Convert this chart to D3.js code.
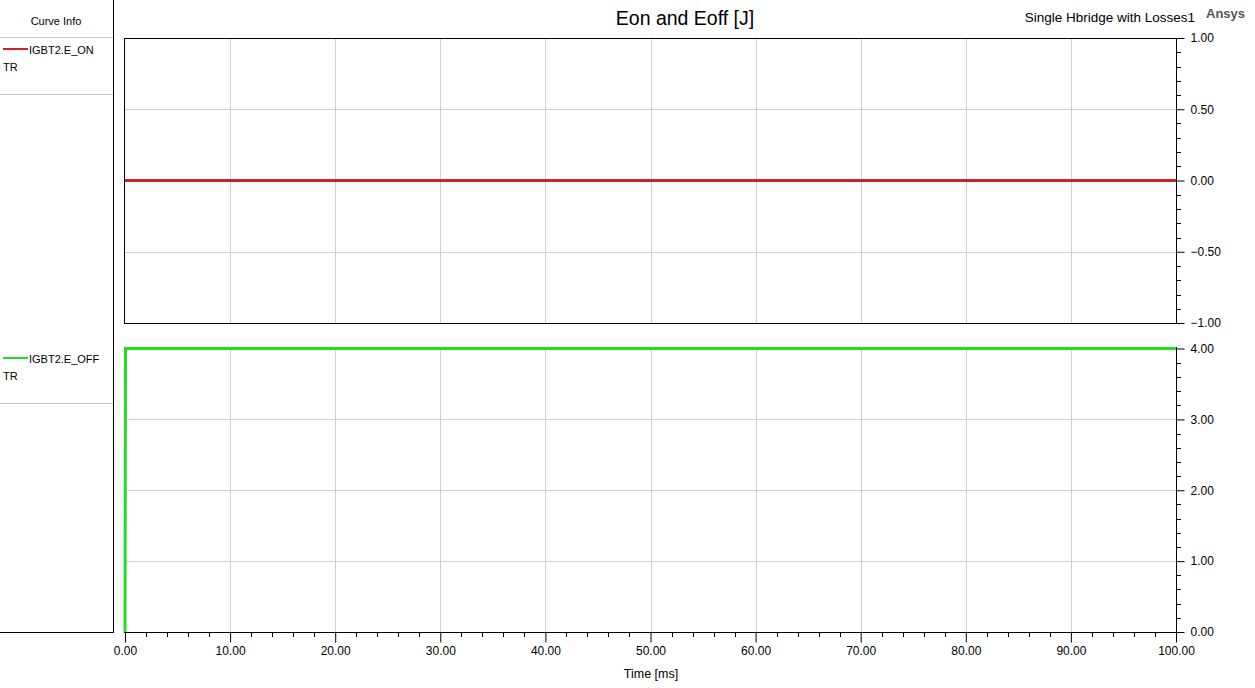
<!DOCTYPE html>
<html><head><meta charset="utf-8">
<script src="https://cdn.jsdelivr.net/npm/d3@7"></script>
<style>body{margin:0;background:#fff;font-family:Arial,"Liberation Sans",sans-serif}</style>
</head><body><svg id="c" width="1255" height="688"></svg>
<script>
const title = "Eon and Eoff [J]";
const subtitle = "Single Hbridge with Losses1";
const brand = "Ansys";
const xLabel = "Time [ms]";
const xTicks = [0,10,20,30,40,50,60,70,80,90,100];
const onTime = [0, 100];
const onValues = [0, 0];
const offTime = [0, 0.05, 100];
const offValues = [0, 4, 4];
const onTicks = [1, 0.5, 0, -0.5, -1];
const offTicks = [4, 3, 2, 1, 0];
const legendNames = ["IGBT2.E_ON", "IGBT2.E_OFF"];
const legendSub = ["TR", "TR"];
const colors = ["#cc2229", "#22dd22"];

const svg = d3.select("#c");
const L = 124, R = 1176;
const x = d3.scaleLinear().domain([0,100]).range([L+1, R]);
const FF = "Arial,'Liberation Sans',sans-serif";

svg.append("rect").attr("x",-1).attr("y",-1).attr("width",114.5).attr("height",633.5).attr("fill","none").attr("stroke","#000");
svg.append("text").attr("x",56).attr("y",25).attr("text-anchor","middle").attr("font-size",11).text("Curve Info");
svg.append("line").attr("x1",0).attr("x2",113).attr("y1",37.5).attr("y2",37.5).attr("stroke","#c8c8c8");

const panels = [
  {top:38, bot:323, domain:[-1,1], ticks:onTicks, minor:0.1, t:onTime, v:onValues, legY:38},
  {top:347, bot:632, domain:[0,4], ticks:offTicks, minor:0.2, t:offTime, v:offValues, legY:347}
];
panels.forEach((p,i)=>{
  const y = d3.scaleLinear().domain(p.domain).range([p.bot, p.top+ (i==1?1.5:0)]);
  const g = svg.append("g");
  g.selectAll(".vx").data(xTicks.slice(1,-1)).enter().append("line")
    .attr("x1",d=>Math.round(x(d))+0.5).attr("x2",d=>Math.round(x(d))+0.5)
    .attr("y1",p.top).attr("y2",p.bot).attr("stroke","#cfcfcf");
  g.selectAll(".hy").data(p.ticks.slice(1,-1)).enter().append("line")
    .attr("y1",d=>Math.round(y(d))+0.5).attr("y2",d=>Math.round(y(d))+0.5)
    .attr("x1",L).attr("x2",R).attr("stroke","#cfcfcf");
  g.append("rect").attr("x",L+0.5).attr("y",p.top+0.5).attr("width",R-L).attr("height",p.bot-p.top).attr("fill","none").attr("stroke","#000");
  const ax = d3.axisRight(y).tickValues(p.ticks).tickSize(8).tickFormat(d3.format(".2f"));
  const ag = svg.append("g").attr("transform",`translate(${R+0.5},0)`).call(ax);
  ag.select(".domain").remove();
  ag.selectAll("text").attr("font-size",12).attr("font-family",FF).attr("fill","#000").attr("x",14);
  const minors = d3.range(p.domain[0], p.domain[1]+1e-9, p.minor).filter(v=>!p.ticks.some(t=>Math.abs(t-v)<1e-6));
  svg.selectAll(null).data(minors).enter().append("line")
    .attr("x1",R).attr("x2",R+5).attr("y1",d=>Math.round(y(d))+0.5).attr("y2",d=>Math.round(y(d))+0.5).attr("stroke","#000");
  const line = d3.line().x((d,j)=>x(p.t[j])).y(d=>y(d));
  g.append("path").datum(p.v).attr("d",line).attr("fill","none").attr("stroke",colors[i]).attr("stroke-width",3);
  const ly = p.legY;
  svg.append("line").attr("x1",3).attr("x2",28).attr("y1",ly+11).attr("y2",ly+11).attr("stroke",colors[i]).attr("stroke-width",2);
  svg.append("text").attr("x",29).attr("y",ly+16).attr("font-size",11).text(legendNames[i]);
  svg.append("text").attr("x",3).attr("y",ly+33).attr("font-size",11).text(legendSub[i]);
  svg.append("line").attr("x1",0).attr("x2",113).attr("y1",ly+56.5).attr("y2",ly+56.5).attr("stroke","#c8c8c8");
});

const xa = d3.axisBottom(x).tickValues(xTicks).tickSize(10).tickFormat(d3.format(".2f"));
const xg = svg.append("g").attr("transform","translate(0,632.5)").call(xa);
xg.select(".domain").remove();
xg.selectAll("text").attr("font-size",12).attr("font-family",FF).attr("fill","#000").attr("y",14);
const xMinor = d3.range(0,100.001,2).filter(v=>v%10!==0);
svg.selectAll(null).data(xMinor).enter().append("line")
  .attr("x1",d=>Math.round(x(d))+0.5).attr("x2",d=>Math.round(x(d))+0.5).attr("y1",632).attr("y2",637).attr("stroke","#000");
svg.append("line").attr("x1",L).attr("x2",R+1).attr("y1",632.5).attr("y2",632.5).attr("stroke","#000");

svg.append("text").attr("x",651).attr("y",678).attr("text-anchor","middle").attr("font-size",12.5).text(xLabel);
svg.append("text").attr("x",685).attr("y",25).attr("text-anchor","middle").attr("font-size",19.5).text(title);
svg.append("text").attr("x",1195).attr("y",22).attr("text-anchor","end").attr("font-size",13.5).text(subtitle);
svg.append("text").attr("x",1206).attr("y",18).attr("font-size",13).attr("font-weight","bold").attr("fill","#555").text(brand);
</script></body></html>
